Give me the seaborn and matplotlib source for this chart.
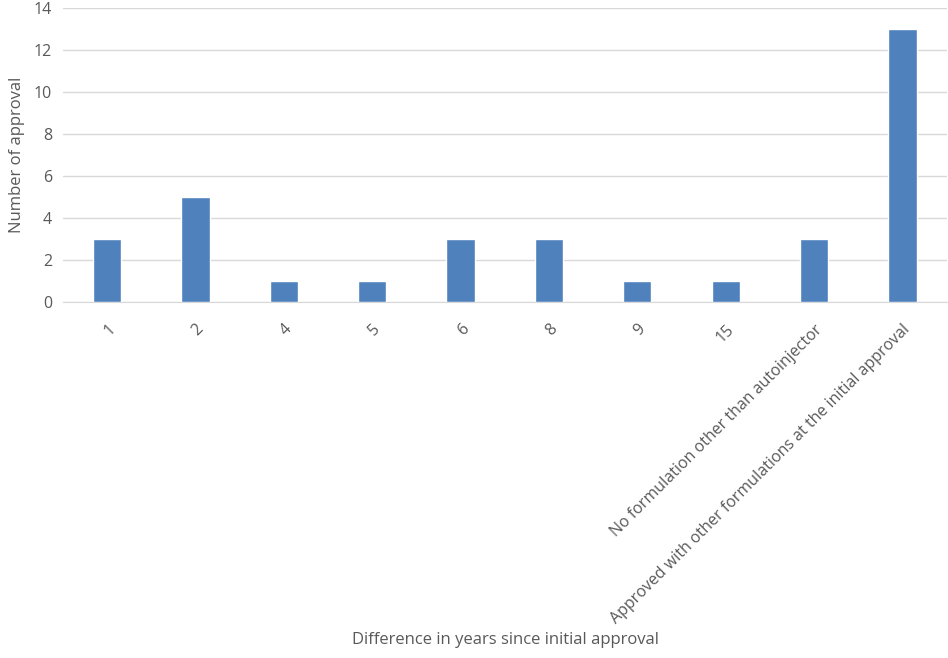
import pandas as pd
import matplotlib.pyplot as plt
import seaborn as sns

# data
categories = ["1", "2", "4", "5", "6", "8", "9", "15",
              "No formulation other than autoinjector",
              "Approved with other formulations at the initial approval"]
counts = [3, 5, 1, 1, 3, 3, 1, 1, 3, 13]

df = pd.DataFrame({"category": categories, "count": counts})

sns.set_style("white")
plt.rcParams["font.family"] = ["Open Sans", "DejaVu Sans"]
text_color = "#595959"

fig = plt.figure(figsize=(9.48, 6.58), dpi=100)
ax = fig.add_axes([0.0665, 0.541, 0.932, 0.447])

sns.barplot(data=df, x="category", y="count", color="#4F81BD",
            saturation=1, width=0.32, ax=ax, zorder=3)

ax.set_ylim(0, 14)
ax.set_yticks(range(0, 15, 2))
ax.set_xlim(-0.5, len(categories) - 0.5)
ax.yaxis.grid(True, color="#D9D9D9", linewidth=1, zorder=0)
for side in ["top", "right", "left"]:
    ax.spines[side].set_visible(False)
ax.spines["bottom"].set_color("#D9D9D9")
ax.tick_params(axis="both", length=0, labelsize=11.5, labelcolor=text_color)
ax.tick_params(axis="y", pad=8)

ax.set_xticks(range(len(categories)))
ax.set_xticklabels(categories, rotation=45, ha="right", rotation_mode="anchor")
ax.tick_params(axis="x", pad=14)

ax.set_ylabel("Number of approval", fontsize=12, color=text_color, labelpad=6)
ax.set_xlabel("")
fig.text(0.533, 0.027, "Difference in years since initial approval",
         fontsize=12, color=text_color, ha="center", va="center")

fig.savefig("out.png", dpi=100)
